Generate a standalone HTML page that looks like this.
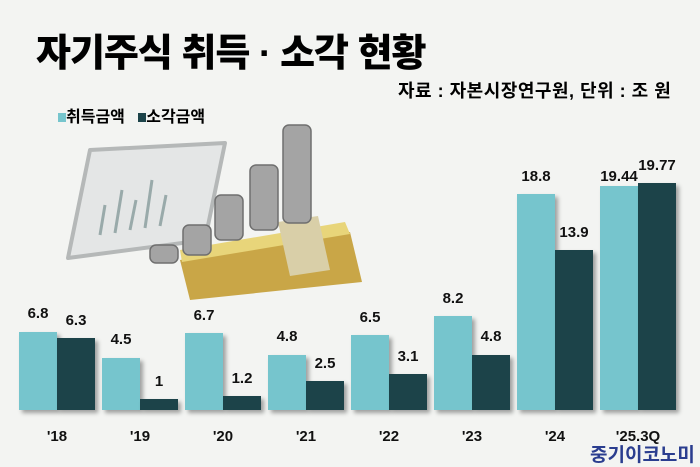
<!DOCTYPE html><html><head><meta charset="utf-8"><style>
body{margin:0;width:700px;height:466px;background:#f3f4f2;position:relative;overflow:hidden;font-family:"Liberation Sans","Noto Sans CJK KR",sans-serif}
.t{position:absolute;white-space:nowrap}
.b{position:absolute;box-shadow:3px 3px 4px rgba(0,0,0,.35)}
.l{background:#76c5cd}.d{background:#1c4349}
.v{position:absolute;width:40px;text-align:center;font-size:15px;font-weight:bold;color:#111}
.x{position:absolute;width:80px;text-align:center;font-size:15px;font-weight:bold;color:#111;top:428px}
</style></head><body>
<div class="t" style="left:36px;top:22px;font-size:38px;font-weight:900;letter-spacing:-1px">자기주식 취득 · 소각 현황</div>
<div class="t" style="left:398px;top:77px;font-size:18px;font-weight:bold;letter-spacing:0.5px">자료 : 자본시장연구원, 단위 : 조 원</div>
<div class="t" style="left:58px;top:103px;font-size:16px;font-weight:bold"><span style="display:inline-block;width:8px;height:9px;background:#76c5cd"></span>취득금액 &nbsp;&nbsp;<span style="display:inline-block;width:8px;height:9px;background:#1c4349"></span>소각금액</div>
<svg style="position:absolute;left:0;top:0" width="700" height="466">
<polygon points="90,150 225,143 205,240 68,258" fill="#e4e6e6" stroke="#b5b8b8" stroke-width="4" stroke-linejoin="round"/>
<g stroke="#9aa" stroke-width="3"><line x1="100" y1="235" x2="105" y2="205"/><line x1="115" y1="233" x2="122" y2="190"/><line x1="130" y1="230" x2="136" y2="200"/><line x1="145" y1="228" x2="152" y2="180"/><line x1="160" y1="226" x2="166" y2="195"/></g>
<polygon points="180,260 350,232 362,282 190,300" fill="#c9a647"/>
<polygon points="180,250 345,222 350,234 182,262" fill="#e8d57a"/>
<polygon points="278,222 318,216 330,270 290,276" fill="#d9cfa8"/>
<g fill="#a4a4a4" stroke="#6f6f6f" stroke-width="1.5">
<rect x="150" y="245" width="28" height="18" rx="6"/>
<rect x="183" y="225" width="28" height="30" rx="6"/>
<rect x="215" y="195" width="28" height="45" rx="6"/>
<rect x="250" y="165" width="28" height="65" rx="6"/>
<rect x="283" y="125" width="28" height="98" rx="6"/>
</g>
</svg>
<div class="b l" style="left:19px;top:332px;width:38px;height:78px"></div><div class="b d" style="left:57px;top:338px;width:38px;height:72px"></div>
<div class="b l" style="left:102px;top:358px;width:38px;height:52px"></div><div class="b d" style="left:140px;top:399px;width:38px;height:11px"></div>
<div class="b l" style="left:185px;top:333px;width:38px;height:77px"></div><div class="b d" style="left:223px;top:396px;width:38px;height:14px"></div>
<div class="b l" style="left:268px;top:355px;width:38px;height:55px"></div><div class="b d" style="left:306px;top:381px;width:38px;height:29px"></div>
<div class="b l" style="left:351px;top:335px;width:38px;height:75px"></div><div class="b d" style="left:389px;top:374px;width:38px;height:36px"></div>
<div class="b l" style="left:434px;top:316px;width:38px;height:94px"></div><div class="b d" style="left:472px;top:355px;width:38px;height:55px"></div>
<div class="b l" style="left:517px;top:194px;width:38px;height:216px"></div><div class="b d" style="left:555px;top:250px;width:38px;height:160px"></div>
<div class="b l" style="left:600px;top:186px;width:38px;height:224px"></div><div class="b d" style="left:638px;top:183px;width:38px;height:227px"></div>
<div class="v" style="left:18px;top:305px">6.8</div><div class="v" style="left:56px;top:312px">6.3</div>
<div class="v" style="left:101px;top:331px">4.5</div><div class="v" style="left:139px;top:373px">1</div>
<div class="v" style="left:184px;top:307px">6.7</div><div class="v" style="left:222px;top:370px">1.2</div>
<div class="v" style="left:267px;top:328px">4.8</div><div class="v" style="left:305px;top:355px">2.5</div>
<div class="v" style="left:350px;top:309px">6.5</div><div class="v" style="left:388px;top:348px">3.1</div>
<div class="v" style="left:433px;top:290px">8.2</div><div class="v" style="left:471px;top:328px">4.8</div>
<div class="v" style="left:516px;top:168px">18.8</div><div class="v" style="left:554px;top:224px">13.9</div>
<div class="v" style="left:599px;top:168px">19.44</div><div class="v" style="left:637px;top:157px">19.77</div>
<div class="x" style="left:17px">'18</div><div class="x" style="left:100px">'19</div><div class="x" style="left:183px">'20</div><div class="x" style="left:266px">'21</div><div class="x" style="left:349px">'22</div><div class="x" style="left:432px">'23</div><div class="x" style="left:515px">'24</div><div class="x" style="left:598px">'25.3Q</div>
<div class="t" style="left:590px;top:440px;font-size:19px;font-weight:bold;color:#2a3d8f">중기이코노미</div>
</body></html>
